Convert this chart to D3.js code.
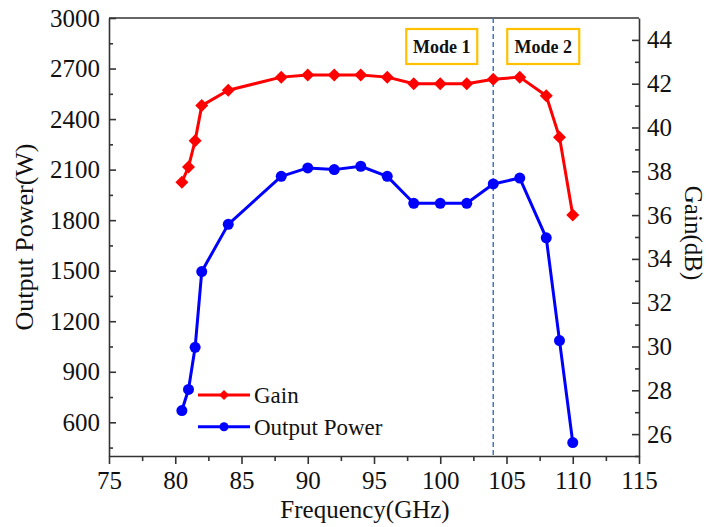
<!DOCTYPE html>
<html>
<head>
<meta charset="utf-8">
<script src="https://cdn.jsdelivr.net/npm/d3@7"></script>
<style>
  body { margin: 0; background: #fff; }
  text { font-family: "Liberation Serif", "Times New Roman", serif; fill: #111; }
</style>
</head>
<body>
<div id="chart"></div>
<script>
// frequency points (GHz)
var freq = [80.5, 81, 81.5, 82, 84, 88, 90, 92, 94, 96, 98, 100, 102, 104, 106, 108, 109, 110];
// gain in dB (right axis)
var gain = [37.5, 38.2, 39.4, 41.0, 41.7, 42.3, 42.4, 42.4, 42.4, 42.3, 42.0, 42.0, 42.0, 42.2, 42.3, 41.45, 39.55, 36.0];
// output power in W (left axis)
var power = [670, 795, 1045, 1495, 1775, 2060, 2110, 2100, 2120, 2060, 1900, 1900, 1900, 2015, 2050, 1695, 1085, 480];

var xTicks = [75, 80, 85, 90, 95, 100, 105, 110, 115];
var yLeftTicks = [600, 900, 1200, 1500, 1800, 2100, 2400, 2700, 3000];
var yRightTicks = [26, 28, 30, 32, 34, 36, 38, 40, 42, 44];
var modeLabels = ["Mode 1", "Mode 2"];
var modeSplit = 104;
var seriesNames = ["Gain", "Output Power"];

var W = 709, H = 527;
var margin = {top: 18, right: 70, bottom: 71, left: 109},
    width = W - margin.left - margin.right,
    height = H - margin.top - margin.bottom;

var svg = d3.select("#chart").append("svg")
    .attr("width", W).attr("height", H)
  .append("g")
    .attr("transform", "translate(" + margin.left + "," + margin.top + ")");

var x = d3.scaleLinear().domain([75, 115]).range([0, width]);
var yL = d3.scaleLinear().domain([400, 3000]).range([height, 0]);
var yR = d3.scaleLinear().domain([25, 45]).range([height, 0]);

var axisCol = "#333";

// minor ticks first
svg.append("g").attr("class", "minor")
  .attr("transform", "translate(0," + height + ")")
  .call(d3.axisBottom(x).tickValues(d3.range(77.5, 115, 5)).tickSize(5).tickFormat(""));
svg.append("g").attr("class", "minor")
  .call(d3.axisRight(yL).tickValues(d3.range(450, 3000, 300)).tickSize(4).tickFormat(""));
svg.append("g").attr("class", "minor")
  .attr("transform", "translate(" + width + ",0)")
  .call(d3.axisLeft(yR).tickValues(d3.range(25, 45, 2)).tickSize(4).tickFormat(""));

// bottom axis
var gx = svg.append("g")
  .attr("transform", "translate(0," + height + ")")
  .call(d3.axisBottom(x).tickValues(xTicks).tickSize(8).tickSizeOuter(0).tickPadding(7));
gx.selectAll("text").style("font-size", "25px");

// left axis (ticks inward, labels outside)
var gl = svg.append("g")
  .call(d3.axisRight(yL).tickValues(yLeftTicks).tickFormat(d3.format("d")).tickSize(7).tickSizeOuter(0));
gl.selectAll("text").attr("x", -9).attr("text-anchor", "end").style("font-size", "25px");

// right axis
var gr = svg.append("g")
  .attr("transform", "translate(" + width + ",0)")
  .call(d3.axisLeft(yR).tickValues(yRightTicks).tickSize(7).tickSizeOuter(0));
gr.selectAll("text").attr("x", 8).attr("text-anchor", "start").style("font-size", "25px");

svg.selectAll(".domain, .tick line").attr("stroke", axisCol).attr("stroke-width", 1.6);
svg.selectAll(".minor .domain").remove();

// top frame line
svg.append("line").attr("x1", 0).attr("x2", width).attr("y1", 0).attr("y2", 0)
  .attr("stroke", axisCol).attr("stroke-width", 1.6);

// axis titles
svg.append("text").attr("x", width / 2 - 9).attr("y", height + 62)
  .attr("text-anchor", "middle").style("font-size", "25px").text("Frequency(GHz)");
svg.append("text")
  .attr("transform", "translate(" + (-76) + "," + (height / 2) + ") rotate(-90)")
  .attr("text-anchor", "middle").style("font-size", "26px").text("Output Power(W)");
svg.append("text")
  .attr("transform", "translate(" + (width + 46) + "," + (height / 2 - 4) + ") rotate(90)")
  .attr("text-anchor", "middle").style("font-size", "25px").text("Gain(dB)");

// mode divider
svg.append("line")
  .attr("x1", x(modeSplit)).attr("x2", x(modeSplit))
  .attr("y1", 0).attr("y2", height)
  .attr("stroke", "#4472C4").attr("stroke-width", 1.5)
  .attr("stroke-dasharray", "5,3");

// mode labels
var boxes = [[x(modeSplit) - 87, 71], [x(modeSplit) + 14, 72]];
modeLabels.forEach(function(lbl, i) {
  var bx = boxes[i][0], bw = boxes[i][1];
  svg.append("rect").attr("x", bx).attr("y", 11).attr("width", bw).attr("height", 35)
    .attr("fill", "#fff").attr("stroke", "#FFC000").attr("stroke-width", 2.2);
  svg.append("text").attr("x", bx + bw / 2).attr("y", 35)
    .attr("text-anchor", "middle").style("font-size", "18px").style("font-weight", "bold")
    .text(lbl);
});

var data = freq.map(function(f, i) { return {f: f, g: gain[i], p: power[i]}; });

function diamond(r) {
  return "M0," + (-r) + "L" + r + ",0L0," + r + "L" + (-r) + ",0Z";
}

// gain series
svg.append("path").datum(data)
  .attr("fill", "none").attr("stroke", "#FF0000").attr("stroke-width", 3)
  .attr("stroke-linejoin", "round")
  .attr("d", d3.line().x(function(d) { return x(d.f); }).y(function(d) { return yR(d.g); }));
svg.append("g").selectAll("path").data(data).enter().append("path")
  .attr("d", diamond(6.5))
  .attr("transform", function(d) { return "translate(" + x(d.f) + "," + yR(d.g) + ")"; })
  .attr("fill", "#FF0000");

// power series
svg.append("path").datum(data)
  .attr("fill", "none").attr("stroke", "#0000FF").attr("stroke-width", 3)
  .attr("stroke-linejoin", "round")
  .attr("d", d3.line().x(function(d) { return x(d.f); }).y(function(d) { return yL(d.p); }));
svg.append("g").selectAll("circle").data(data).enter().append("circle")
  .attr("cx", function(d) { return x(d.f); })
  .attr("cy", function(d) { return yL(d.p); })
  .attr("r", 5.5)
  .attr("fill", "#0000FF");

// legend
var lg = svg.append("g").attr("transform", "translate(" + (198 - margin.left) + "," + (395 - margin.top) + ")");
var legCols = ["#FF0000", "#0000FF"];
seriesNames.forEach(function(name, i) {
  var row = lg.append("g").attr("transform", "translate(0," + (i * 31.7) + ")");
  row.append("line").attr("x1", 0).attr("x2", 52).attr("y1", 0).attr("y2", 0)
    .attr("stroke", legCols[i]).attr("stroke-width", 3);
  if (i === 0) {
    row.append("path").attr("d", diamond(5)).attr("transform", "translate(26,0)").attr("fill", legCols[i]);
  } else {
    row.append("circle").attr("cx", 26).attr("cy", 0).attr("r", 4.5).attr("fill", legCols[i]);
  }
  row.append("text").attr("x", 56).attr("y", 8).style("font-size", "23px").text(name);
});
</script>
</body>
</html>
